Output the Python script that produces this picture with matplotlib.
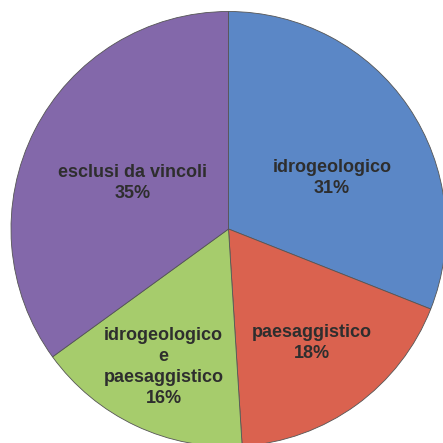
import matplotlib
matplotlib.use('Agg')
import matplotlib.pyplot as plt
import numpy as np

# dati della torta (percentuali)
labels = ['idrogeologico', 'paesaggistico', 'idrogeologico\ne\npaesaggistico', 'esclusi da vincoli']
values = [31, 18, 16, 35]
colors = ['#5b87c6', '#da624f', '#a6cc6c', '#8368aa']

# posizione delle etichette: distanza dal centro e correzione angolare (gradi)
label_dist = [0.53, 0.65, 0.70, 0.49]
label_shift = [-8, 0, 0, 1.5]

W = H = 443
fig = plt.figure(figsize=(W / 100, H / 100), dpi=100)
fig.patch.set_facecolor('white')

cx, cy, r = 228.5, 229, 217.5
ax = fig.add_axes([(cx - r) / W, (H - cy - r) / H, 2 * r / W, 2 * r / H])

wedges, _ = ax.pie(values, colors=colors, startangle=90, counterclock=False,
                   radius=1, wedgeprops=dict(edgecolor='#555555', linewidth=0.6))
ax.set_xlim(-1, 1)
ax.set_ylim(-1, 1)
ax.set_aspect('equal')
ax.axis('off')

for w, lab, v, d, s in zip(wedges, labels, values, label_dist, label_shift):
    ang = np.deg2rad((w.theta1 + w.theta2) / 2 + s)
    ax.text(d * np.cos(ang), d * np.sin(ang), f'{lab}\n{v}%',
            ha='center', va='center', fontsize=13, fontweight='bold',
            color='#2e2e2e', family=['Liberation Sans', 'DejaVu Sans'],
            linespacing=1.3)

fig.savefig('out.png', dpi=100, facecolor='white')
